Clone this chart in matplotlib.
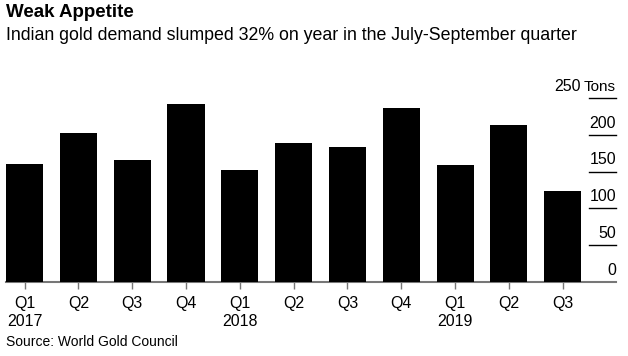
import matplotlib.pyplot as plt

plt.rcParams['font.family'] = ['Liberation Sans', 'DejaVu Sans']

quarters = ['Q1', 'Q2', 'Q3', 'Q4', 'Q1', 'Q2', 'Q3', 'Q4', 'Q1', 'Q2', 'Q3']
years = ['2017', '', '', '', '2018', '', '', '', '2019', '', '']
demand = [160, 202, 166, 242, 152, 189, 183, 236, 159, 213, 124]
y_ticks = [0, 50, 100, 150, 200, 250]

fig = plt.figure(figsize=(6.28, 3.56), dpi=100)
ax = fig.add_axes([0.0096, 0.2079, 0.9713, 0.5168])

x = list(range(len(demand)))
ax.bar(x, demand, width=0.69, color='black', zorder=3)

ax.set_xlim(-0.345, 10.99)
ax.set_ylim(0, 250)

# short gridline stubs on the right with labels sitting above them
for v in y_ticks:
    if v > 0:
        ax.axhline(v, xmin=0.956, xmax=1.0, color='black', lw=1.0, clip_on=False)
    ax.annotate(str(v), xy=(1.0, v), xycoords=('axes fraction', 'data'),
                xytext=(0 if v != 250 else -25.5, 3), textcoords='offset points',
                ha='right', va='bottom', fontsize=11.5, color='black')
ax.annotate('Tons', xy=(1.0, 250), xycoords=('axes fraction', 'data'),
            xytext=(0, 3), textcoords='offset points',
            ha='right', va='bottom', fontsize=11, color='black')

for s in ['top', 'right', 'left']:
    ax.spines[s].set_visible(False)
ax.spines['bottom'].set_color('#777777')
ax.spines['bottom'].set_linewidth(1.5)
ax.set_yticks([])
ax.set_xticks(x)
ax.set_xticklabels([q + '\n' + y for q, y in zip(quarters, years)],
                   fontsize=11.5, linespacing=1.25)
ax.tick_params(axis='x', length=5, width=1, color='#777777', pad=5)

fig.text(0.0096, 0.988, 'Weak Appetite', fontsize=13.5, fontweight='bold',
         ha='left', va='top')
fig.text(0.0096, 0.925, 'Indian gold demand slumped 32% on year in the July-September quarter',
         fontsize=12.8, ha='left', va='top')
fig.text(0.0096, 0.02, 'Source: World Gold Council', fontsize=10, ha='left', va='bottom')

fig.savefig('out.png', dpi=100)
